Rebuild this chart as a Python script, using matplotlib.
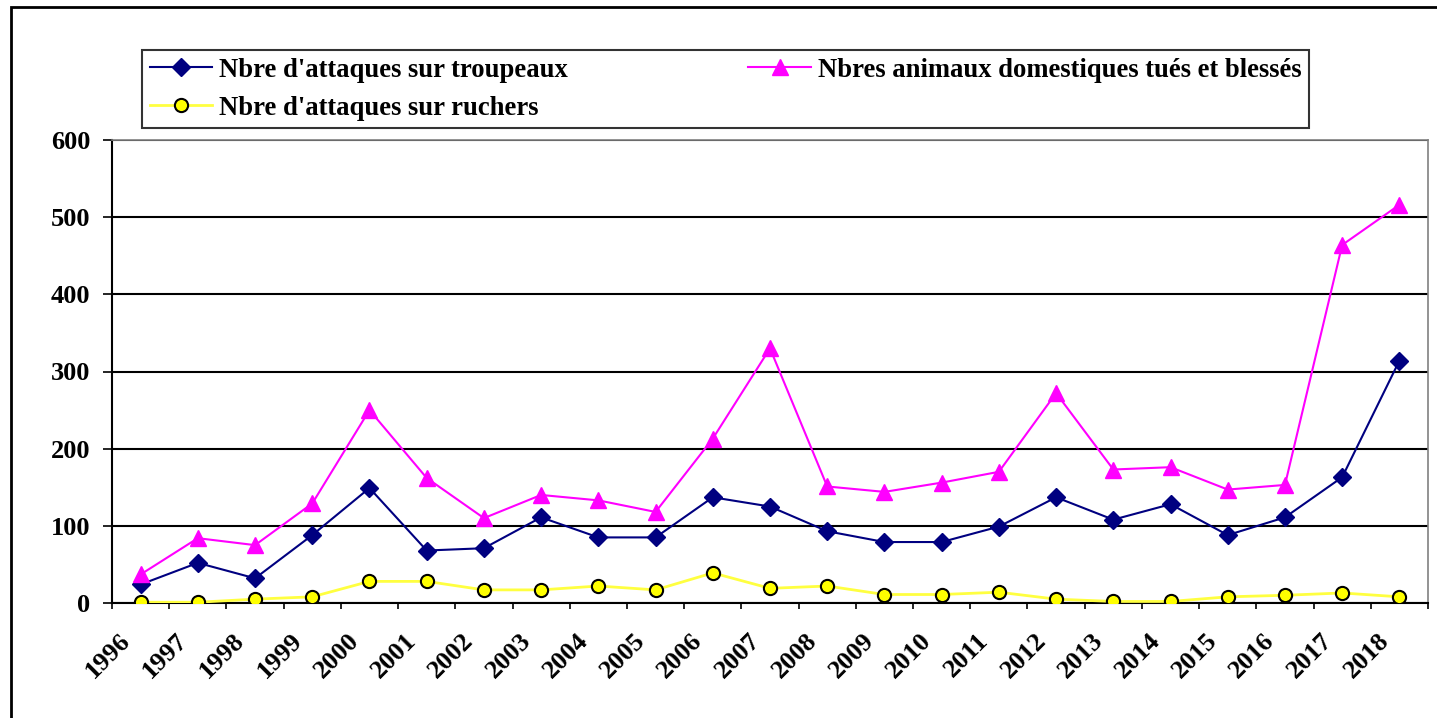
import numpy as np
import matplotlib
matplotlib.use("Agg")
import matplotlib.pyplot as plt
import matplotlib.patches as mpatches
import matplotlib.transforms as mtransforms

# Données
annees = list(range(1996, 2019))
attaques_troupeaux = [24, 52, 32, 88, 149, 68, 71, 111, 85, 85, 137, 125,
                      93, 79, 79, 99, 137, 108, 128, 88, 111, 163, 314]
animaux_tues = [37, 84, 75, 129, 250, 162, 110, 140, 133, 118, 213, 330,
                151, 144, 156, 170, 272, 173, 176, 147, 153, 464, 516]
attaques_ruchers = [1, 1, 5, 8, 28, 28, 17, 17, 22, 17, 39, 19,
                    22, 11, 11, 14, 5, 2, 2, 8, 10, 13, 8]

plt.rcParams['font.family'] = ['Liberation Serif', 'DejaVu Serif']
plt.rcParams['font.weight'] = 'bold'

W, H = 1437, 718
fig = plt.figure(figsize=(W / 100, H / 100), dpi=100)
ax = fig.add_axes([112 / W, 1 - 603 / H, (1428 - 112) / W, (603 - 140) / H])

x = np.arange(len(annees))

ax.plot(x, attaques_troupeaux, color='#000080', lw=1.5, marker='D', ms=9,
        mfc='#000080', mec='#000080', label="Nbre d'attaques sur troupeaux", zorder=4)
ax.plot(x, animaux_tues, color='#FF00FF', lw=1.5, marker='^', ms=11.5,
        mfc='#FF00FF', mec='#FF00FF', label="Nbres animaux domestiques tués et blessés", zorder=4)
ax.plot(x, attaques_ruchers, color='#FFFF40', lw=2, marker='o', ms=9.5,
        mfc='#FFFF00', mec='black', mew=1.5, label="Nbre d'attaques sur ruchers", zorder=4)

# axes
ax.set_ylim(0, 600)
ax.set_yticks(range(0, 601, 100))
ax.yaxis.grid(True, color='black', lw=1.5)
ax.set_axisbelow(True)
ax.tick_params(axis='y', direction='out', length=6.5, width=1.2, pad=9, labelsize=19)

ax.set_xlim(-0.5, len(annees) - 0.5)
ax.set_xticks(np.arange(len(annees) + 1) - 0.5)
ax.set_xticklabels([str(a) for a in annees] + [''], rotation=45, ha='center')
ax.tick_params(axis='x', direction='out', length=4.5, width=1.2, pad=14, labelsize=19)
decal = mtransforms.ScaledTranslation(-4 / 100, 0, fig.dpi_scale_trans)
for lab in ax.get_xticklabels():
    lab.set_transform(lab.get_transform() + decal)

for s in ['left', 'bottom']:
    ax.spines[s].set_color('black')
    ax.spines[s].set_linewidth(1.5)
for s in ['top', 'right']:
    ax.spines[s].set_color('#808080')
    ax.spines[s].set_linewidth(1.2)

# légende
handles, labels = ax.get_legend_handles_labels()
ordre = [0, 2, 1]
leg = fig.legend([handles[i] for i in ordre], [labels[i] for i in ordre],
                 loc='upper left', bbox_to_anchor=(142 / W, 1 - 50 / H, 1167 / W, 0),
                 bbox_transform=fig.transFigure, mode='expand', ncol=2,
                 prop={'size': 19.2, 'weight': 'bold'}, frameon=True, fancybox=False,
                 handlelength=2.35, handletextpad=0.25, borderpad=0.29, labelspacing=0.48,
                 borderaxespad=0, columnspacing=1.0)
leg.get_frame().set_edgecolor('black')
leg.get_frame().set_linewidth(1.5)

# cadre extérieur
cadre = mpatches.Rectangle((11 / W, -0.2), 1.2, 1.2 - 7 / H, transform=fig.transFigure,
                           fill=False, edgecolor='black', lw=2, clip_on=False)
fig.patches.append(cadre)

fig.savefig('out.png', dpi=100)
